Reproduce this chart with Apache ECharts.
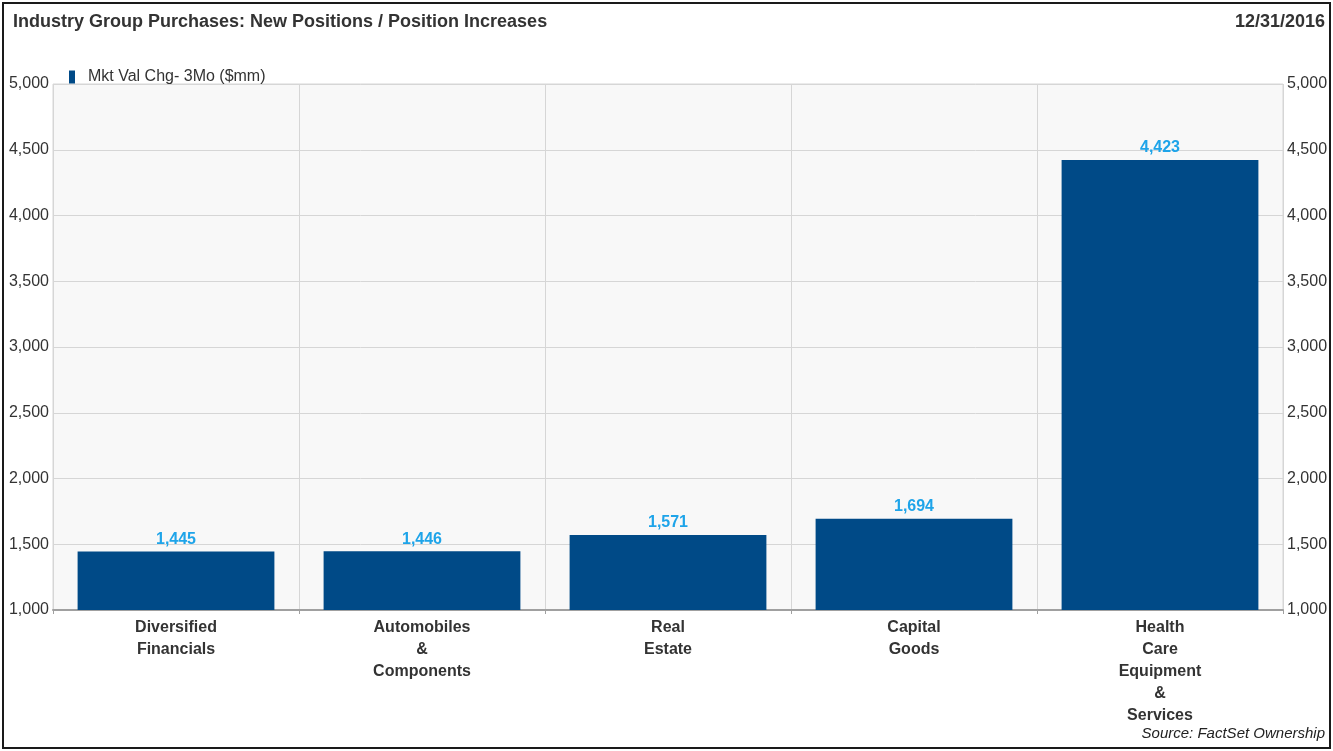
<!DOCTYPE html>
<html><head><meta charset="utf-8">
<script src="https://cdn.jsdelivr.net/npm/echarts@6/dist/echarts.min.js"></script>
<style>
html,body{margin:0;padding:0;background:#fff;}
#frame{position:absolute;left:2px;top:2px;width:1325px;height:743px;border:2px solid #1a1a1a;}
#c{position:absolute;left:0;top:0;width:1333px;height:751px;}
</style></head>
<body>
<div id="frame"></div>
<div id="c"></div>
<script>
const categories = ["Diversified\nFinancials","Automobiles\n&\nComponents","Real\nEstate","Capital\nGoods","Health\nCare\nEquipment\n&\nServices"];
const mktValChg = [1445, 1446, 1571, 1694, 4423];
const seriesName = "Mkt Val Chg- 3Mo ($mm)";
const titleText = "Industry Group Purchases: New Positions / Position Increases";
const dateText = "12/31/2016";
const sourceText = "Source: FactSet Ownership";

const font = "'Liberation Sans', Arial, sans-serif";
const chart = echarts.init(document.getElementById('c'), null, {renderer:'canvas'});
const yAxisCommon = {
  type:'value', min:1000, max:5000, interval:500,
  axisLine:{show:false}, axisTick:{show:false},
  splitLine:{show:true, lineStyle:{color:'#d6d6d6', width:1}},
  axisLabel:{color:'#333', fontSize:16, fontFamily:font, margin:4,
    formatter:v=>v.toLocaleString('en-US')}
};
chart.setOption({
  animation:false,
  textStyle:{fontFamily:font},
  title:[
    {text:titleText, left:8, top:8, textStyle:{fontSize:18, fontWeight:'bold', color:'#333', fontFamily:font}},
    {text:dateText, right:3, top:8, textStyle:{fontSize:18, fontWeight:'bold', color:'#333', fontFamily:font}},
    {text:sourceText, right:3, bottom:5, textStyle:{fontSize:15, fontStyle:'italic', fontWeight:'normal', color:'#222', fontFamily:font}}
  ],
  legend:{left:64, top:64, itemWidth:6, itemHeight:13, itemGap:10,
    textStyle:{fontSize:16, color:'#333', fontFamily:font, padding:[0,0,0,8]},
    data:[{name:seriesName, icon:'rect'}]},
  grid:{left:53, right:50, top:84, bottom:141, show:true, backgroundColor:'#f8f8f8', borderColor:'#d6d6d6', borderWidth:1},
  xAxis:{type:'category', data:categories,
    axisLine:{lineStyle:{color:'#a0a0a0', width:2}},
    axisTick:{show:true, length:4, lineStyle:{color:'#a0a0a0'}},
    splitLine:{show:true, lineStyle:{color:'#d6d6d6'}},
    axisLabel:{color:'#333', fontSize:16, fontWeight:'bold', fontFamily:font, lineHeight:22, margin:7, interval:0}},
  yAxis:[Object.assign({position:'left'}, yAxisCommon),
         Object.assign({position:'right'}, yAxisCommon, {splitLine:{show:false}})],
  series:[{name:seriesName, type:'bar', data:mktValChg, barWidth:'80%',
    itemStyle:{color:'#004a87'},
    label:{show:true, position:'top', distance:4, color:'#1ea4e9', fontSize:16, fontWeight:'bold', fontFamily:font,
      formatter:p=>p.value.toLocaleString('en-US')}}]
});
</script>
</body></html>
